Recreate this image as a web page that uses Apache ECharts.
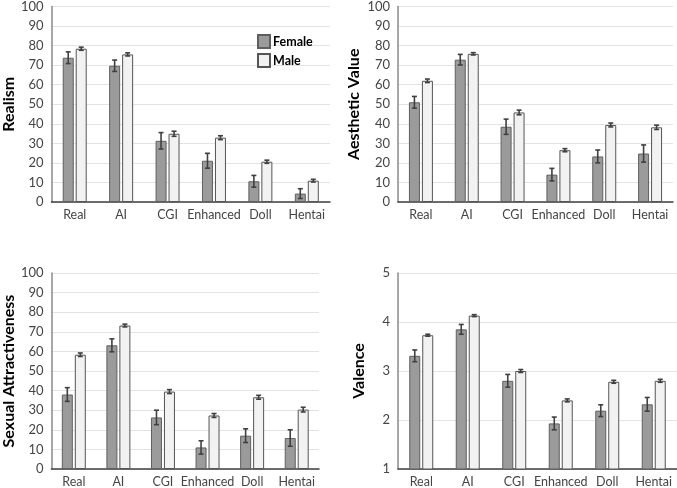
<!DOCTYPE html>
<html>
<head>
<meta charset="utf-8">
<script src="https://cdn.jsdelivr.net/npm/echarts@6/dist/echarts.min.js"></script>
<style>
  html, body { margin: 0; padding: 0; background: #fff; }
  #chart { width: 677px; height: 488px; }
</style>
</head>
<body>
<div id="chart"></div>
<script>
const categories = ['Real', 'AI', 'CGI', 'Enhanced', 'Doll', 'Hentai'];

// Realism
const realismFemale = [73.8, 69.7, 31.3, 21.1, 10.6, 4.3];
const realismFemaleErr = [3.0, 2.9, 4.2, 3.8, 3.0, 2.5];
const realismMale = [78.4, 75.5, 34.9, 32.9, 20.6, 10.9];
const realismMaleErr = [0.8, 0.8, 1.3, 1.0, 0.8, 0.7];

// Aesthetic Value
const aestheticFemale = [51.0, 72.8, 38.5, 14.0, 23.3, 24.8];
const aestheticFemaleErr = [3.0, 2.7, 3.9, 3.2, 3.3, 4.4];
const aestheticMale = [62.0, 75.8, 45.8, 26.5, 39.4, 38.2];
const aestheticMaleErr = [0.9, 0.6, 1.2, 0.8, 1.0, 1.1];

// Sexual Attractiveness
const sexualFemale = [38.0, 63.1, 26.3, 11.0, 17.0, 15.8];
const sexualFemaleErr = [3.5, 3.3, 3.7, 3.4, 3.5, 4.2];
const sexualMale = [58.3, 73.2, 39.5, 27.3, 36.6, 30.3];
const sexualMaleErr = [0.9, 0.7, 1.0, 1.0, 1.0, 1.2];

// Valence
const valenceFemale = [3.31, 3.85, 2.80, 1.93, 2.19, 2.32];
const valenceFemaleErr = [0.12, 0.10, 0.13, 0.13, 0.12, 0.14];
const valenceMale = [3.73, 4.13, 3.00, 2.40, 2.78, 2.80];
const valenceMaleErr = [0.02, 0.02, 0.03, 0.03, 0.03, 0.03];

const panels = [
  { name: 'Realism', female: realismFemale, fErr: realismFemaleErr, male: realismMale, mErr: realismMaleErr,
    min: 0, max: 100, interval: 10, grid: { left: 44, top: 6, width: 286, height: 196 }, nameGap: 31 },
  { name: 'Aesthetic Value', female: aestheticFemale, fErr: aestheticFemaleErr, male: aestheticMale, mErr: aestheticMaleErr,
    min: 0, max: 100, interval: 10, grid: { left: 398, top: 5, width: 275, height: 197 }, nameGap: 36 },
  { name: 'Sexual Attractiveness', female: sexualFemale, fErr: sexualFemaleErr, male: sexualMale, mErr: sexualMaleErr,
    min: 0, max: 100, interval: 10, grid: { left: 44, top: 273, width: 275, height: 197 }, nameGap: 34 },
  { name: 'Valence', female: valenceFemale, fErr: valenceFemaleErr, male: valenceMale, mErr: valenceMaleErr,
    min: 1, max: 5, interval: 1, grid: { left: 398, top: 273, width: 288, height: 197 }, nameGap: 31 }
];

const FONT = 'Lato, "Liberation Sans", sans-serif';
const BAR_W = 11;
const OFFSET = 6.5;

function errorSeries(idx, values, errs, offset) {
  return {
    type: 'custom',
    name: 'err',
    xAxisIndex: idx,
    yAxisIndex: idx,
    z: 5,
    data: values.map((v, i) => [i, v, errs[i]]),
    encode: { x: 0, y: 1 },
    renderItem: (params, api) => {
      const i = api.value(0);
      const v = api.value(1);
      const e = api.value(2);
      const x = api.coord([i, v])[0] + offset;
      const hi = api.coord([i, v + e])[1];
      const lo = api.coord([i, v - e])[1];
      const style = { stroke: '#404040', lineWidth: 1.6 };
      return {
        type: 'group',
        children: [
          { type: 'line', shape: { x1: x, y1: hi, x2: x, y2: lo }, style },
          { type: 'line', shape: { x1: x - 2.5, y1: hi, x2: x + 2.5, y2: hi }, style },
          { type: 'line', shape: { x1: x - 2.5, y1: lo, x2: x + 2.5, y2: lo }, style }
        ]
      };
    }
  };
}

const grids = [];
const xAxes = [];
const yAxes = [];
const series = [];

panels.forEach((p, idx) => {
  grids.push(p.grid);
  xAxes.push({
    type: 'category',
    gridIndex: idx,
    data: categories,
    axisTick: { show: false },
    axisLine: { lineStyle: { color: '#404040', width: 1.5 } },
    axisLabel: { color: '#454545', fontSize: 12.5, fontFamily: FONT, margin: 6, interval: 0 }
  });
  yAxes.push({
    type: 'value',
    gridIndex: idx,
    min: p.min,
    max: p.max,
    interval: p.interval,
    name: p.name,
    nameLocation: 'middle',
    nameGap: p.nameGap,
    nameTextStyle: { color: '#000', fontSize: 16, fontWeight: 'bold', fontFamily: FONT },
    axisLine: { show: true, lineStyle: { color: '#8a8a8a', width: 1.5 } },
    axisTick: { show: false },
    axisLabel: { color: '#454545', fontSize: 13, fontFamily: FONT, margin: 8 },
    splitLine: { lineStyle: { color: '#e3e3e3', width: 1 } }
  });
  series.push({
    type: 'bar',
    name: 'Female',
    xAxisIndex: idx,
    yAxisIndex: idx,
    data: p.female,
    barWidth: BAR_W,
    barGap: '18%',
    itemStyle: { color: '#9b9b9b', borderColor: '#5f5f5f', borderWidth: 1 }
  });
  series.push({
    type: 'bar',
    name: 'Male',
    xAxisIndex: idx,
    yAxisIndex: idx,
    data: p.male,
    barWidth: BAR_W,
    barGap: '18%',
    itemStyle: { color: '#f2f2f2', borderColor: '#555555', borderWidth: 1 }
  });
  series.push(errorSeries(idx, p.female, p.fErr, -OFFSET));
  series.push(errorSeries(idx, p.male, p.mErr, OFFSET));
});

const chart = echarts.init(document.getElementById('chart'));
chart.setOption({
  animation: false,
  backgroundColor: '#fff',
  legend: {
    data: ['Female', 'Male'],
    orient: 'vertical',
    left: 252,
    top: 29,
    itemWidth: 12,
    itemHeight: 13,
    itemGap: 4,
    icon: 'rect',
    textStyle: { color: '#000', fontSize: 12.5, fontWeight: 'bold', fontFamily: FONT, padding: [0, 0, 0, -2] }
  },
  grid: grids,
  xAxis: xAxes,
  yAxis: yAxes,
  series: series
});
</script>
</body>
</html>
